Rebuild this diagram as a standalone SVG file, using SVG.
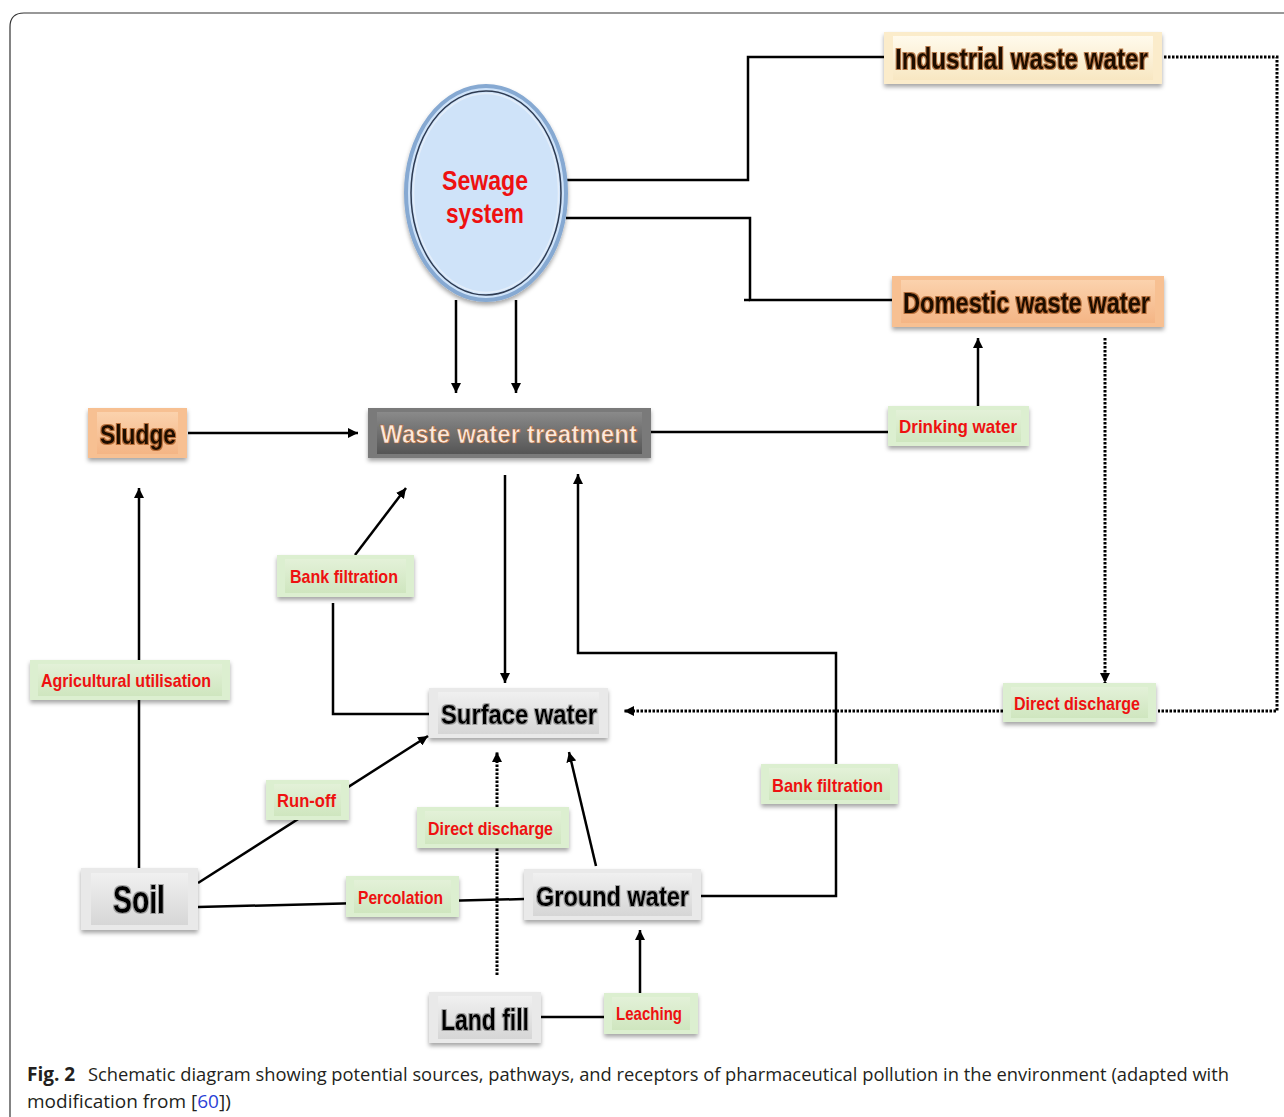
<svg xmlns="http://www.w3.org/2000/svg" width="1284" height="1117" viewBox="0 0 1284 1117">
<defs>
  <filter id="sh" x="-10%" y="-20%" width="120%" height="150%">
    <feDropShadow dx="0" dy="3" stdDeviation="2" flood-color="#000" flood-opacity="0.35"/>
  </filter>
  <filter id="glow" x="-10%" y="-20%" width="120%" height="140%">
    <feMorphology in="SourceAlpha" operator="dilate" radius="1" result="d"/>
    <feFlood flood-color="#9a4a10" flood-opacity="0.7"/>
    <feComposite in2="d" operator="in" result="g"/>
    <feMerge><feMergeNode in="g"/><feMergeNode in="SourceGraphic"/></feMerge>
  </filter>
  <filter id="glowg" x="-10%" y="-20%" width="120%" height="140%">
    <feMorphology in="SourceAlpha" operator="dilate" radius="1" result="d"/>
    <feFlood flood-color="#777" flood-opacity="0.6"/>
    <feComposite in2="d" operator="in" result="g"/>
    <feMerge><feMergeNode in="g"/><feMergeNode in="SourceGraphic"/></feMerge>
  </filter>
  <linearGradient id="gCream" x1="0" y1="0" x2="0" y2="1"><stop offset="0" stop-color="#fffaec"/><stop offset="1" stop-color="#f8e7c2"/></linearGradient>
  <linearGradient id="gPeach" x1="0" y1="0" x2="0" y2="1"><stop offset="0" stop-color="#fbd2ad"/><stop offset="1" stop-color="#f4b585"/></linearGradient>
  <linearGradient id="gGreen" x1="0" y1="0" x2="0" y2="1"><stop offset="0" stop-color="#e3f1d8"/><stop offset="1" stop-color="#cfe6bf"/></linearGradient>
  <linearGradient id="gGray" x1="0" y1="0" x2="0" y2="1"><stop offset="0" stop-color="#f0f0f0"/><stop offset="1" stop-color="#d6d6d6"/></linearGradient>
  <linearGradient id="gDark" x1="0" y1="0" x2="0" y2="1"><stop offset="0" stop-color="#8a8a8a"/><stop offset="1" stop-color="#555"/></linearGradient>
  <marker id="ah" viewBox="0 0 10 10" refX="10" refY="5" markerWidth="10" markerHeight="10" markerUnits="userSpaceOnUse" orient="auto">
    <path d="M0,0 L10,5 L0,10 z" fill="#000"/>
  </marker>
  <style>
    .ln{stroke:#000;stroke-width:2.5;fill:none}
    .dt{stroke:#000;stroke-width:3;fill:none;stroke-dasharray:2.5 1.5}
    .cream .o{fill:#fbeccb}.cream .i{fill:url(#gCream)}
    .peach .o{fill:#f7c092}.peach .i{fill:url(#gPeach)}
    .green .o{fill:#dcefd0}.green .i{fill:url(#gGreen)}
    .gray .o{fill:#e9e9e9}.gray .i{fill:url(#gGray)}
    .dark .o{fill:#7a7a7a}.dark .i{fill:url(#gDark)}
    .o{filter:url(#sh)}
    .t{font-family:"Liberation Sans",Arial,sans-serif;font-weight:bold;text-anchor:start}
    .tb{fill:#1e0e02}
    .tk{fill:#000}
    .tr{fill:#ee1111;font-size:19px}
    .tw{fill:#fbe9dc}
    .cap{font-family:"Open Sans","Liberation Sans",sans-serif;font-size:19px;fill:#231f20}
  </style>
</defs>

<rect width="1284" height="1117" fill="#fff"/>
<path d="M10,1117 V27 Q10,13 24,13 H1284" fill="none" stroke="#333" stroke-width="1.2"/>

<g id="connectors">
  <polyline class="ln" points="566,180 748,180 748,57 884,57"/>
  <polyline class="ln" points="566,218 750,218 750,300 892,300"/>
  <line class="ln" x1="744" y1="300" x2="750" y2="300"/>
  <polyline class="dt" points="1164,57 1277,57 1277,711 1158,711"/>
  <line class="dt" x1="1105" y1="338" x2="1105" y2="683" marker-end="url(#ah)"/>
  <line class="dt" x1="1003" y1="711" x2="624" y2="711" marker-end="url(#ah)"/>
  <line class="ln" x1="456" y1="300" x2="456" y2="393" marker-end="url(#ah)"/>
  <line class="ln" x1="516" y1="300" x2="516" y2="393" marker-end="url(#ah)"/>
  <line class="ln" x1="188" y1="433" x2="358" y2="433" marker-end="url(#ah)"/>
  <line class="ln" x1="651" y1="432" x2="888" y2="432"/>
  <line class="ln" x1="978" y1="406" x2="978" y2="338" marker-end="url(#ah)"/>
  <line class="ln" x1="139" y1="868" x2="139" y2="488" marker-end="url(#ah)"/>
  <line class="ln" x1="355" y1="555" x2="406" y2="488" marker-end="url(#ah)"/>
  <polyline class="ln" points="333,603 333,714 429,714"/>
  <line class="ln" x1="505" y1="475" x2="505" y2="683" marker-end="url(#ah)"/>
  <polyline class="ln" points="701,896 836,896 836,653 578,653 578,474" marker-end="url(#ah)"/>
  <line class="ln" x1="198" y1="883" x2="428" y2="736" marker-end="url(#ah)"/>
  <line class="ln" x1="198" y1="907" x2="524" y2="899"/>
  <line class="ln" x1="596" y1="866" x2="569" y2="752" marker-end="url(#ah)"/>
  <line class="dt" x1="497" y1="975" x2="497" y2="752" marker-end="url(#ah)"/>
  <line class="ln" x1="541" y1="1017" x2="604" y2="1017"/>
  <line class="ln" x1="640" y1="993" x2="640" y2="930" marker-end="url(#ah)"/>
</g>

<g id="sewage-system">
  <ellipse cx="486" cy="193" rx="80" ry="107" fill="#cfe3f9" stroke="#86a9d2" stroke-width="4" filter="url(#sh)"/>
  <ellipse cx="486" cy="193" rx="75" ry="102" fill="none" stroke="#2e3b52" stroke-width="1.5"/>
  <ellipse cx="486" cy="193" rx="72.5" ry="99.5" fill="none" stroke="#e4eefa" stroke-width="1.5"/>
  <text class="t" x="442" y="190" font-size="28" fill="#ee1111" textLength="86" lengthAdjust="spacingAndGlyphs">Sewage</text>
  <text class="t" x="446" y="223" font-size="28" fill="#ee1111" textLength="78" lengthAdjust="spacingAndGlyphs">system</text>
</g>

<g id="industrial-waste-water" class="cream">
  <rect class="o" x="884" y="32" width="278" height="52"/>
  <rect class="i" x="893" y="36" width="260" height="44"/>
  <text class="t tb" x="895" y="69" font-size="30" filter="url(#glow)" textLength="253" lengthAdjust="spacingAndGlyphs">Industrial waste water</text>
</g>

<g id="domestic-waste-water" class="peach">
  <rect class="o" x="892" y="276" width="272" height="51"/>
  <rect class="i" x="901" y="280" width="254" height="43"/>
  <text class="t tb" x="903" y="313" font-size="30" filter="url(#glow)" textLength="247" lengthAdjust="spacingAndGlyphs">Domestic waste water</text>
</g>

<g id="drinking-water" class="green">
  <rect class="o" x="888" y="406" width="141" height="40"/>
  <rect class="i" x="896" y="410" width="125" height="32"/>
  <text class="t tr" x="899" y="433" textLength="118" lengthAdjust="spacingAndGlyphs">Drinking  water</text>
</g>

<g id="sludge" class="peach">
  <rect class="o" x="88" y="408" width="99" height="50"/>
  <rect class="i" x="97" y="412" width="81" height="42"/>
  <text class="t tb" x="100" y="444" font-size="28" filter="url(#glow)" textLength="76" lengthAdjust="spacingAndGlyphs">Sludge</text>
</g>

<g id="waste-water-treatment" class="dark">
  <rect class="o" x="368" y="408" width="283" height="50"/>
  <rect class="i" x="377" y="412" width="265" height="42"/>
  <text class="t tw" x="380" y="443" font-size="26" stroke="#b0602a" stroke-width="0.6" textLength="257" lengthAdjust="spacingAndGlyphs">Waste water treatment</text>
</g>

<g id="bank-filtration-left" class="green">
  <rect class="o" x="277" y="555" width="137" height="42"/>
  <rect class="i" x="285" y="559" width="121" height="34"/>
  <text class="t tr" x="290" y="583" textLength="108" lengthAdjust="spacingAndGlyphs">Bank  filtration</text>
</g>

<g id="agricultural-utilisation" class="green">
  <rect class="o" x="30" y="660" width="200" height="40"/>
  <rect class="i" x="38" y="664" width="184" height="32"/>
  <text class="t tr" x="41" y="687" textLength="170" lengthAdjust="spacingAndGlyphs">Agricultural utilisation</text>
</g>

<g id="surface-water" class="gray">
  <rect class="o" x="429" y="688" width="179" height="50"/>
  <rect class="i" x="438" y="692" width="161" height="42"/>
  <text class="t tk" x="441" y="724" font-size="28" filter="url(#glowg)" textLength="156" lengthAdjust="spacingAndGlyphs">Surface water</text>
</g>

<g id="direct-discharge-right" class="green">
  <rect class="o" x="1003" y="683" width="153" height="39"/>
  <rect class="i" x="1011" y="687" width="137" height="31"/>
  <text class="t tr" x="1014" y="710" textLength="126" lengthAdjust="spacingAndGlyphs">Direct discharge</text>
</g>

<g id="bank-filtration-right" class="green">
  <rect class="o" x="761" y="764" width="137" height="40"/>
  <rect class="i" x="769" y="768" width="121" height="32"/>
  <text class="t tr" x="772" y="792" textLength="111" lengthAdjust="spacingAndGlyphs">Bank  filtration</text>
</g>

<g id="run-off" class="green">
  <rect class="o" x="266" y="780" width="83" height="40"/>
  <rect class="i" x="274" y="784" width="67" height="32"/>
  <text class="t tr" x="277" y="807" textLength="59" lengthAdjust="spacingAndGlyphs">Run-off</text>
</g>

<g id="direct-discharge-middle" class="green">
  <rect class="o" x="417" y="807" width="152" height="41"/>
  <rect class="i" x="425" y="811" width="136" height="33"/>
  <text class="t tr" x="428" y="835" textLength="125" lengthAdjust="spacingAndGlyphs">Direct discharge</text>
</g>

<g id="soil" class="gray">
  <rect class="o" x="81" y="868" width="117" height="62"/>
  <rect class="i" x="91" y="873" width="97" height="52"/>
  <text class="t tk" x="113" y="913" font-size="38" filter="url(#glowg)" textLength="52" lengthAdjust="spacingAndGlyphs">Soil</text>
</g>

<g id="percolation" class="green">
  <rect class="o" x="346" y="876" width="113" height="41"/>
  <rect class="i" x="354" y="880" width="97" height="33"/>
  <text class="t tr" x="358" y="904" textLength="85" lengthAdjust="spacingAndGlyphs">Percolation</text>
</g>

<g id="ground-water" class="gray">
  <rect class="o" x="524" y="869" width="177" height="51"/>
  <rect class="i" x="533" y="873" width="159" height="43"/>
  <text class="t tk" x="536" y="906" font-size="28" filter="url(#glowg)" textLength="153" lengthAdjust="spacingAndGlyphs">Ground water</text>
</g>

<g id="land-fill" class="gray">
  <rect class="o" x="429" y="992" width="112" height="51"/>
  <rect class="i" x="438" y="996" width="94" height="43"/>
  <text class="t tk" x="441" y="1030" font-size="30" filter="url(#glowg)" textLength="88" lengthAdjust="spacingAndGlyphs">Land fill</text>
</g>

<g id="leaching" class="green">
  <rect class="o" x="604" y="993" width="94" height="41"/>
  <rect class="i" x="612" y="997" width="78" height="33"/>
  <text class="t tr" x="616" y="1020" textLength="66" lengthAdjust="spacingAndGlyphs">Leaching</text>
</g>

<g id="caption">
  <text class="cap" x="27" y="1081" font-weight="bold">Fig. 2</text>
  <text class="cap" x="88" y="1081" textLength="1141" lengthAdjust="spacingAndGlyphs">Schematic diagram showing potential sources, pathways, and receptors of pharmaceutical pollution in the environment (adapted with</text>
  <text class="cap" x="27" y="1108">modification from [<tspan fill="#2b3fd6">60</tspan>])</text>
</g>
</svg>
